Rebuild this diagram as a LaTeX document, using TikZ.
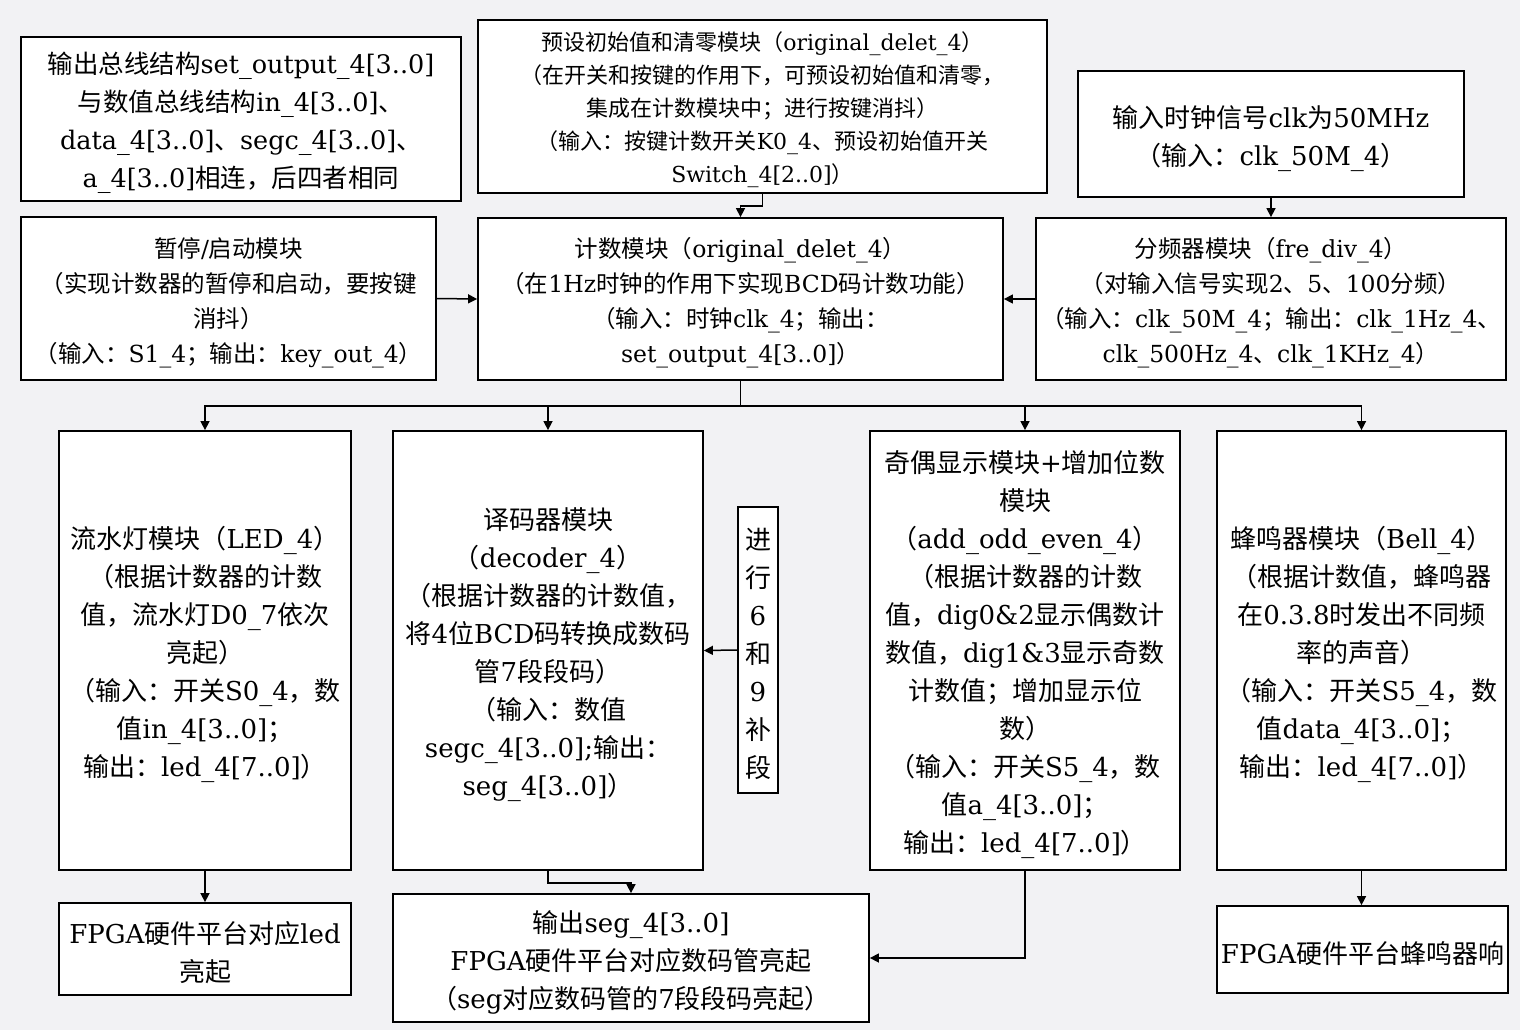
\documentclass[tikz,border=0pt]{standalone}
\usepackage{fontspec}
\setmainfont{DejaVu Serif}
\newfontfamily\cjkfont{Noto Sans CJK SC}
\usetikzlibrary{arrows.meta}
\definecolor{bgc}{HTML}{F2F2F4}
% automatic switching between Latin and CJK fonts
\newXeTeXintercharclass\cjkclass
\newcount\cjkcnt
\cjkcnt="2E80 \loop \XeTeXcharclass\cjkcnt=\cjkclass \advance\cjkcnt by 1 \ifnum\cjkcnt<"A000 \repeat
\cjkcnt="FF00 \loop \XeTeXcharclass\cjkcnt=\cjkclass \advance\cjkcnt by 1 \ifnum\cjkcnt<"FFF0 \repeat
\XeTeXinterchartoks 0 \cjkclass = {\cjkfont}
\XeTeXinterchartoks 4095 \cjkclass = {\cjkfont}
\XeTeXinterchartoks \cjkclass 0 = {\rmfamily}
\XeTeXinterchartoks \cjkclass 4095 = {\rmfamily}
\newcommand\fszA{\fontsize{25.5pt}{38pt}\selectfont}
\newcommand\fszB{\fontsize{22pt}{33pt}\selectfont}
\newcommand\fszC{\fontsize{23.5pt}{35pt}\selectfont}
\newcommand\fszD{\fontsize{26pt}{38pt}\selectfont}
\tikzset{
  box/.style={draw=black, line width=1.8pt, fill=white, inner sep=0pt},
  txt/.style={inner sep=0pt, align=center},
  arr/.style={line width=1.5pt, -{Triangle[length=9pt,width=9pt]}},
}
\begin{document}
\XeTeXinterchartokenstate=1
\begin{tikzpicture}[x=1pt,y=-1pt]
\fill[bgc] (0,0) rectangle (1520,1030);
\useasboundingbox (0,0) rectangle (1520,1030);

% boxes
\node[box, minimum width=440pt, minimum height=164pt] (bus) at (241,119) {};
\node[box, minimum width=569pt, minimum height=173pt] (preset) at (762.5,106.5) {};
\node[box, minimum width=386pt, minimum height=126pt] (clock) at (1271,134) {};
\node[box, minimum width=415pt, minimum height=163pt] (pause) at (228.5,298.5) {};
\node[box, minimum width=525pt, minimum height=162pt] (count) at (740.5,299) {};
\node[box, minimum width=470pt, minimum height=162pt] (freq) at (1271,299) {};
\node[box, minimum width=292pt, minimum height=439pt] (led) at (205,650.5) {};
\node[box, minimum width=310pt, minimum height=439pt] (dec) at (548,650.5) {};
\node[box, minimum width=40pt, minimum height=286pt] (fill) at (758,650) {};
\node[box, minimum width=310pt, minimum height=439pt] (odd) at (1025,650.5) {};
\node[box, minimum width=289pt, minimum height=439pt] (bell) at (1361.5,650.5) {};
\node[box, minimum width=292pt, minimum height=92pt] (fled) at (205,949) {};
\node[box, minimum width=476pt, minimum height=128pt] (seg) at (631,958) {};
\node[box, minimum width=291pt, minimum height=87pt] (fbell) at (1362.5,949.5) {};

% texts
\node[txt, font=\fszA] (busT) at ([yshift=-4pt]bus.center)
 {输出总线结构set\_output\_4[3..0]\\与数值总线结构in\_4[3..0]、\\data\_4[3..0]、segc\_4[3..0]、\\a\_4[3..0]相连，后四者相同};

\node[txt, font=\fszB] (presetT) at ([yshift=-3.5pt]preset.center)
 {预设初始值和清零模块（original\_delet\_4）\\（在开关和按键的作用下，可预设初始值和清零，\\集成在计数模块中；进行按键消抖）\\（输入：按键计数开关K0\_4、预设初始值开关\\Switch\_4[2..0]）};

\node[txt, font=\fszD] (clockT) at ([yshift=-4.5pt]clock.center)
 {输入时钟信号clk为50MHz\\（输入：clk\_50M\_4）};

\node[txt, font=\fszC] (pauseT) at ([yshift=-4pt]pause.center)
 {暂停/启动模块\\（实现计数器的暂停和启动，要按键\\消抖）\\（输入：S1\_4；输出：key\_out\_4）};

\node[txt, font=\fszC] (countT) at ([yshift=-3.5pt]count.center)
 {计数模块（original\_delet\_4）\\（在1Hz时钟的作用下实现BCD码计数功能）\\（输入：时钟clk\_4；输出：\\set\_output\_4[3..0]）};

\node[txt, font=\fszC] (freqT) at ([yshift=-4pt]freq.center)
 {分频器模块（fre\_div\_4）\\（对输入信号实现2、5、100分频）\\（输入：clk\_50M\_4；输出：clk\_1Hz\_4、\\clk\_500Hz\_4、clk\_1KHz\_4）};

\node[txt, font=\fszD] (ledT) at ([yshift=-4pt]led.center)
 {流水灯模块（LED\_4）\\（根据计数器的计数\\值，流水灯D0\_7依次\\亮起）\\（输入：开关S0\_4，数\\值in\_4[3..0]；\\输出：led\_4[7..0]）};

\node[txt, font=\fszD] (decT) at ([yshift=-4pt]dec.center)
 {译码器模块\\（decoder\_4）\\（根据计数器的计数值，\\将4位BCD码转换成数码\\管7段段码）\\（输入：数值\\segc\_4[3..0];输出：\\seg\_4[3..0]）};

\node[txt, font=\fszD] (fillT) at ([yshift=-4pt]fill.center)
 {进\\行\\6\\和\\9\\补\\段};

\node[txt, font=\fszD] (oddT) at ([yshift=-4pt]odd.center)
 {奇偶显示模块+增加位数\\模块\\（add\_odd\_even\_4）\\（根据计数器的计数\\值，dig0\&2显示偶数计\\数值，dig1\&3显示奇数\\计数值；增加显示位\\数）\\（输入：开关S5\_4，数\\值a\_4[3..0]；\\输出：led\_4[7..0]）};

\node[txt, font=\fszD] (bellT) at ([yshift=-4pt]bell.center)
 {蜂鸣器模块（Bell\_4）\\（根据计数值，蜂鸣器\\在0.3.8时发出不同频\\率的声音）\\（输入：开关S5\_4，数\\值data\_4[3..0]；\\输出：led\_4[7..0]）};

\node[txt, font=\fszD] (fledT) at ([yshift=-4pt]fled.center)
 {FPGA硬件平台对应led\\亮起};

\node[txt, font=\fszD] (segT) at ([yshift=-4pt]seg.center)
 {输出seg\_4[3..0]\\FPGA硬件平台对应数码管亮起\\（seg对应数码管的7段段码亮起）};

\node[txt, font=\fszD] (fbellT) at ([yshift=-4pt]fbell.center)
 {FPGA硬件平台蜂鸣器响};

% connectors
\draw[arr] (preset.south) -- ++(0,12) -| (count.north);
\draw[arr] (clock.south) -- (freq.north);
\draw[arr] (pause.east) -- (count.west);
\draw[arr] (freq.west) -- (count.east);
\draw[arr] (count.south) -- ++(0,25) -| (led.north);
\draw[arr] (count.south) -- ++(0,25) -| (dec.north);
\draw[arr] (count.south) -- ++(0,25) -| (odd.north);
\draw[arr] (count.south) -- ++(0,25) -| (bell.north);
\draw[arr] (fill.west) -- (dec.east);
\draw[arr] (led.south) -- (fled.north);
\draw[arr] (dec.south) -- ++(0,12) -| (seg.north);
\draw[arr] (odd.south) |- (seg.east);
\draw[arr] (bell.south) -- (bell.south |- fbell.north);
\end{tikzpicture}
\end{document}
